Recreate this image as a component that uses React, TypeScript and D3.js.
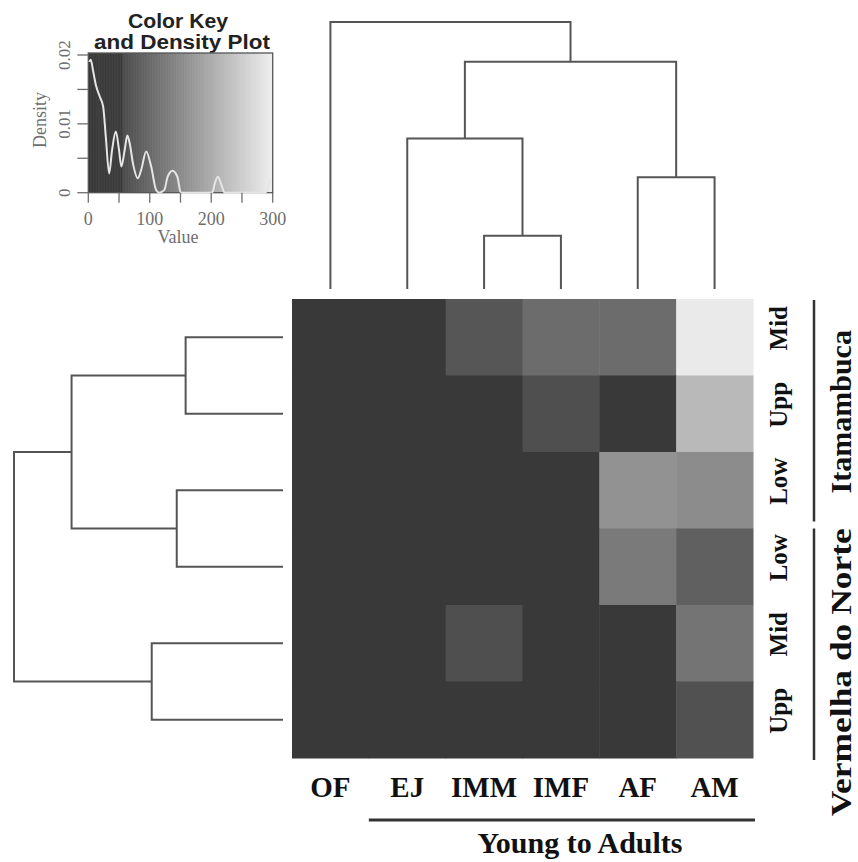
import React from "react";
import * as d3 from "d3";

// columns (life stages) and rows (river sections), top to bottom
const stages = ["OF", "EJ", "IMM", "IMF", "AF", "AM"];
const sites = ["ItaMid", "ItaUpp", "ItaLow", "VerLow", "VerMid", "VerUpp"];
const siteLabels = ["Mid", "Upp", "Low", "Low", "Mid", "Upp"];
const rivers = ["Itamambuca", "Vermelha do Norte"];
const riverSites = [
  ["ItaMid", "ItaUpp", "ItaLow"],
  ["VerLow", "VerMid", "VerUpp"],
];

// cell values per row, in stage order
const itaMid = [0, 0, 73, 106, 106, 294];
const itaUpp = [0, 0, 0, 62, 0, 221];
const itaLow = [0, 0, 0, 0, 162, 153];
const verLow = [0, 0, 0, 0, 127, 88];
const verMid = [0, 0, 62, 0, 0, 118];
const verUpp = [0, 0, 0, 0, 0, 65];
const rowValues = [itaMid, itaUpp, itaLow, verLow, verMid, verUpp];

// density curve of the colour key (value, density)
const densityX = [1.6, 4, 8, 12.4, 18.9, 24.2, 28.5, 33.9, 38.7, 44.7, 50, 53.8, 59.2, 63.5, 67.3, 72.6, 80.6, 86, 94.2, 102.3, 110.3, 115.6, 123.7, 129, 137, 145, 150.6, 201.6, 206, 210.8, 216.7, 221.6, 287.7, 293, 295.8];
const densityY = [0.019, 0.0193, 0.0176, 0.0156, 0.0139, 0.0125, 0.0081, 0.0028, 0.0062, 0.0089, 0.0062, 0.0038, 0.0062, 0.0083, 0.0072, 0.0043, 0.0021, 0.0033, 0.006, 0.0038, 0.0004, 0, 0.0004, 0.0023, 0.0032, 0.0023, 0, 0, 0.0014, 0.0023, 0.0011, 0, 0, 0.0009, 0.002];
const keyXTicks = [0, 50, 100, 150, 200, 250, 300];
const keyXLabels = [0, 100, 200, 300];
const keyYTicks = [0, 0.005, 0.01, 0.015, 0.02];
const keyYLabels = [0, 0.01, 0.02];

// dendrograms: merge heights (relative)
const colTree = {
  h: 1,
  children: [
    { name: "OF" },
    {
      h: 0.851,
      children: [
        { h: 0.564, children: [{ name: "EJ" }, { h: 0.199, children: [{ name: "IMM" }, { name: "IMF" }] }] },
        { h: 0.419, children: [{ name: "AF" }, { name: "AM" }] },
      ],
    },
  ],
};
const rowTree = {
  h: 1,
  children: [
    {
      h: 0.786,
      children: [
        { h: 0.362, children: [{ name: "ItaMid" }, { name: "ItaUpp" }] },
        { h: 0.395, children: [{ name: "ItaLow" }, { name: "VerLow" }] },
      ],
    },
    { h: 0.488, children: [{ name: "VerMid" }, { name: "VerUpp" }] },
  ],
};

const serif = '"Liberation Serif", "Times New Roman", serif';
const sans = '"Liberation Sans", Arial, sans-serif';

function dendroPaths(tree: any, leafPos: (n: string) => number, hPos: (h: number) => number, top: boolean) {
  const root: any = d3.hierarchy(tree);
  root.eachAfter((n: any) => {
    n.hh = n.data.h ?? 0;
    n.pos = n.children
      ? (n.children[0].pos + n.children[n.children.length - 1].pos) / 2
      : leafPos(n.data.name);
  });
  return root
    .descendants()
    .filter((n: any) => n.children)
    .map((n: any) => {
      const [a, b] = n.children;
      const p = d3.path();
      if (top) {
        p.moveTo(a.pos, hPos(a.hh));
        p.lineTo(a.pos, hPos(n.hh));
        p.lineTo(b.pos, hPos(n.hh));
        p.lineTo(b.pos, hPos(b.hh));
      } else {
        p.moveTo(hPos(a.hh), a.pos);
        p.lineTo(hPos(n.hh), a.pos);
        p.lineTo(hPos(n.hh), b.pos);
        p.lineTo(hPos(b.hh), b.pos);
      }
      return p.toString();
    });
}

export default function App() {
  const x = d3.scaleBand().domain(stages).range([292, 753]);
  const y = d3.scaleBand().domain(sites).range([299, 758]);
  const color = d3
    .scaleLinear<string>()
    .domain([0, 56, 56.01, 300])
    .range(["#393939", "#3b3b3b", "#4b4b4b", "#eeeeee"])
    .clamp(true);

  const hTop = d3.scaleLinear().domain([0, 1]).range([289, 22]);
  const hLeft = d3.scaleLinear().domain([0, 1]).range([283, 14]);
  const colPaths = dendroPaths(colTree, (n) => x(n)! + x.bandwidth() / 2, hTop, true);
  const rowPaths = dendroPaths(rowTree, (n) => y(n)! + y.bandwidth() / 2, hLeft, false);

  // colour key
  const kx = d3.scaleLinear().domain([0, 300]).range([88.3, 272.7]);
  const ky = d3.scaleLinear().domain([0, 0.02]).range([192.7, 55]);
  const keySteps = d3.range(0, 300, 1);
  const densityLine = d3
    .line<number>()
    .x((_, i) => kx(densityX[i]))
    .y((d) => ky(d))
    .curve(d3.curveMonotoneX);
  const keyGrey = "#6e6e6e";

  const cw = x.bandwidth();
  const ch = y.bandwidth();

  return (
    <svg width={858} height={862} style={{ position: "absolute", left: 0, top: 0, background: "#fff" }}>
      {/* colour key */}
      <text x={178} y={28} textAnchor="middle" fontFamily={sans} fontWeight="bold" fontSize={20} fill="#222" textLength={100} lengthAdjust="spacingAndGlyphs">
        Color Key
      </text>
      <text x={182} y={49} textAnchor="middle" fontFamily={sans} fontWeight="bold" fontSize={20} fill="#222" textLength={176} lengthAdjust="spacingAndGlyphs">
        and Density Plot
      </text>
      {keySteps.map((v) => (
        <rect key={v} x={kx(v)} y={53} width={kx(v + 1) - kx(v) + 0.5} height={ky(0) - 53} fill={color(v + 0.5)} />
      ))}
      <rect x={kx(0)} y={53} width={kx(300) - kx(0)} height={ky(0) - 53} fill="none" stroke="#555" strokeWidth={1.3} />
      <path d={densityLine(densityY) ?? ""} fill="none" stroke="#e6e6e6" strokeWidth={2} />
      {keyXTicks.map((t) => (
        <line key={t} x1={kx(t)} x2={kx(t)} y1={ky(0)} y2={ky(0) + 10} stroke={keyGrey} strokeWidth={1.3} />
      ))}
      {keyXLabels.map((t) => (
        <text key={t} x={kx(t)} y={225} textAnchor="middle" fontFamily={serif} fontSize={18} fill={keyGrey}>
          {t}
        </text>
      ))}
      <text x={178} y={243} textAnchor="middle" fontFamily={serif} fontSize={18} fill={keyGrey}>
        Value
      </text>
      {keyYTicks.map((t) => (
        <line key={t} x1={kx(0) - 11} x2={kx(0)} y1={ky(t)} y2={ky(t)} stroke={keyGrey} strokeWidth={1.3} />
      ))}
      {keyYLabels.map((t) => (
        <text key={t} transform={`translate(70,${ky(t)}) rotate(-90)`} textAnchor="middle" fontFamily={serif} fontSize={17} fill={keyGrey}>
          {t}
        </text>
      ))}
      <text transform="translate(46,120) rotate(-90)" textAnchor="middle" fontFamily={serif} fontSize={18} fill={keyGrey}>
        Density
      </text>

      {/* dendrograms */}
      {colPaths.map((d: string, i: number) => (
        <path key={"c" + i} d={d} fill="none" stroke="#555" strokeWidth={2} />
      ))}
      {rowPaths.map((d: string, i: number) => (
        <path key={"r" + i} d={d} fill="none" stroke="#555" strokeWidth={2} />
      ))}

      {/* heatmap */}
      {rowValues.map((row, ri) =>
        row.map((v, ci) => (
          <rect key={ri + "-" + ci} x={x(stages[ci])} y={y(sites[ri])} width={cw + 0.5} height={ch + 0.5} fill={color(v)} />
        ))
      )}

      {/* column labels */}
      {stages.map((s) => (
        <text key={s} x={x(s)! + cw / 2} y={797} textAnchor="middle" fontFamily={serif} fontWeight="bold" fontSize={29} fill="#111">
          {s}
        </text>
      ))}
      <line x1={x("EJ")!} x2={x.range()[1] + 2} y1={820} y2={820} stroke="#333" strokeWidth={3} />
      <text x={580} y={853} textAnchor="middle" fontFamily={serif} fontWeight="bold" fontSize={30} fill="#111">
        Young to Adults
      </text>

      {/* row labels */}
      {sites.map((s, i) => (
        <text key={s} transform={`translate(787,${y(s)! + ch / 2 - 9}) rotate(-90)`} textAnchor="middle" fontFamily={serif} fontWeight="bold" fontSize={25} fill="#111">
          {siteLabels[i]}
        </text>
      ))}
      {riverSites.map((g, i) => {
        const y0 = y(g[0])!;
        const y1 = y(g[g.length - 1])! + ch;
        return (
          <line key={rivers[i]} x1={814} x2={814} y1={y0 + (i === 0 ? 1 : 0)} y2={y1 - (i === 0 ? 7 : -2)} stroke="#333" strokeWidth={2.5} />
        );
      })}
      <text transform={`translate(851,${(y("ItaMid")! + y("ItaLow")! + ch) / 2 - 2}) rotate(-90)`} textAnchor="middle" fontFamily={serif} fontWeight="bold" fontSize={30} fill="#111">
        {rivers[0]}
      </text>
      <text transform={`translate(851,${(y("VerLow")! + y("VerUpp")! + ch) / 2 + 29}) rotate(-90)`} textAnchor="middle" fontFamily={serif} fontWeight="bold" fontSize={30} fill="#111" textLength={288} lengthAdjust="spacingAndGlyphs">
        {rivers[1]}
      </text>
    </svg>
  );
}
